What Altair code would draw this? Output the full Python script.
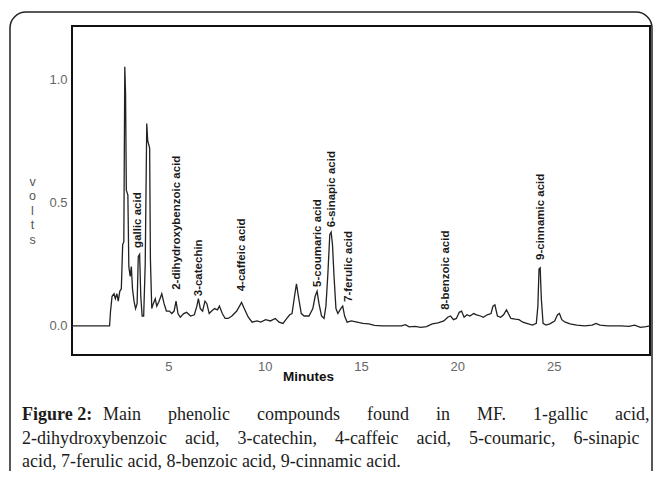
import altair as alt
import pandas as pd

# ---- chromatogram trace (minutes, volts) ----
minutes = [0.0, 1.95, 2.0, 2.08, 2.18, 2.25, 2.33, 2.40, 2.48, 2.56, 2.63, 2.69, 2.74, 2.78, 2.82,
           2.90, 2.95, 3.02, 3.08, 3.14, 3.22, 3.30, 3.38, 3.44, 3.51, 3.57, 3.64, 3.72, 3.80, 3.88,
           3.93, 4.03, 4.07, 4.14, 4.22, 4.32, 4.40, 4.52, 4.66, 4.78, 4.90, 5.05, 5.18, 5.30, 5.40,
           5.50, 5.62, 5.80, 5.95, 6.15, 6.35, 6.48, 6.56, 6.66, 6.78, 6.90, 7.00, 7.12, 7.25, 7.40,
           7.55, 7.65, 7.80, 7.95, 8.10, 8.30, 8.55, 8.80, 9.00, 9.15, 9.35, 9.60, 9.80, 10.05, 10.30,
           10.55, 10.75, 10.95, 11.15, 11.30, 11.42, 11.55, 11.65, 11.75, 11.90, 12.05, 12.30, 12.50,
           12.62, 12.72, 12.82, 12.95, 13.08, 13.18, 13.28, 13.38, 13.45, 13.52, 13.60, 13.70, 13.80,
           13.95, 14.05, 14.15, 14.28, 14.50, 14.80, 15.10, 15.40, 15.70, 16.10, 16.60, 17.10, 17.30,
           17.50, 17.80, 18.10, 18.40, 18.70, 19.00, 19.30, 19.50, 19.65, 19.80, 19.95, 20.10, 20.22,
           20.35, 20.50, 20.65, 20.85, 21.00, 21.20, 21.35, 21.55, 21.75, 21.85, 21.95, 22.08, 22.25,
           22.40, 22.55, 22.65, 22.78, 23.00, 23.20, 23.40, 23.60, 23.90, 24.10, 24.18, 24.24, 24.30,
           24.36, 24.45, 24.60, 24.80, 25.05, 25.20, 25.30, 25.42, 25.60, 25.85, 26.20, 26.60, 27.00,
           27.20, 27.40, 27.80, 28.50, 28.90, 29.20, 29.50, 29.80, 30.0]
volts = [0.0, 0.0, 0.06, 0.12, 0.13, 0.11, 0.13, 0.10, 0.14, 0.15, 0.33, 0.34, 1.05, 0.94, 0.55,
         0.53, 0.24, 0.20, 0.24, 0.15, 0.10, 0.07, 0.09, 0.28, 0.29, 0.12, 0.04, 0.04, 0.25, 0.82,
         0.75, 0.72, 0.27, 0.07, 0.09, 0.11, 0.08, 0.10, 0.13, 0.09, 0.06, 0.06, 0.05, 0.06, 0.10,
         0.05, 0.035, 0.05, 0.055, 0.04, 0.045, 0.08, 0.11, 0.07, 0.06, 0.10, 0.09, 0.05, 0.06, 0.07,
         0.065, 0.08, 0.05, 0.03, 0.03, 0.04, 0.06, 0.095, 0.06, 0.035, 0.015, 0.02, 0.015, 0.025, 0.02,
         0.03, 0.015, 0.01, 0.03, 0.045, 0.05, 0.12, 0.17, 0.12, 0.05, 0.04, 0.04, 0.07,
         0.12, 0.14, 0.09, 0.04, 0.03, 0.08, 0.21, 0.37, 0.38, 0.33, 0.20, 0.07, 0.05,
         0.07, 0.08, 0.04, 0.015, 0.02, 0.015, 0.01, 0.008, 0.002, 0.0, 0.0, 0.0, 0.005,
         -0.004, -0.002, -0.006, -0.003, 0.008, 0.012, 0.02, 0.035, 0.04, 0.025, 0.03, 0.055, 0.06,
         0.035, 0.045, 0.04, 0.05, 0.045, 0.04, 0.035, 0.045, 0.05, 0.08, 0.085, 0.04, 0.035,
         0.045, 0.065, 0.05, 0.03, 0.027, 0.025, 0.015, 0.01, 0.003, 0.01, 0.08, 0.23, 0.235,
         0.11, 0.01, 0.003, 0.008, 0.02, 0.045, 0.05, 0.025, 0.015, 0.008, 0.003, 0.0, 0.003,
         0.01, 0.003, 0.0, 0.0, -0.002, 0.003, -0.006, -0.003, 0.0]

# ---- peak labels ----
peak_names = ["gallic acid", "2-dihydroxybenzoic acid", "3-catechin", "4-caffeic acid",
              "5-coumaric acid", "6-sinapic acid", "7-ferulic acid", "8-benzoic acid",
              "9-cinnamic acid"]
peak_minutes = [3.43, 5.45, 6.59, 8.81, 12.77, 13.49, 14.38, 19.41, 24.34]
peak_label_base = [0.316, 0.146, 0.12, 0.14, 0.158, 0.40, 0.097, 0.065, 0.267]

x_ticks = [5, 10, 15, 20, 25]
y_ticks = [0.0, 0.5, 1.0]
y_title = ["v", "o", "l", "t", "s"]

NB = "\u00a0"
G1 = " " + NB * 5
G2 = " " + NB * 3
caption_bold = "Figure 2:"
caption_line1 = G1.join(["Main", "phenolic", "compounds", "found", "in", "MF.", "1-gallic", "acid,"])
caption_line2 = G2.join(["2-dihydroxybenzoic", "acid,", "3-catechin,", "4-caffeic", "acid,",
                         "5-coumaric,", "6-sinapic"])
caption_line3 = "acid, 7-ferulic acid, 8-benzoic acid, 9-cinnamic acid."

W, H = 578, 329
trace_df = pd.DataFrame({"t": minutes, "v": volts})
label_df = pd.DataFrame({"name": peak_names, "t": peak_minutes, "v": peak_label_base})

xscale = alt.Scale(domain=[0, 30], nice=False, zero=False)
yscale = alt.Scale(domain=[-0.118, 1.215], nice=False, zero=False)

trace = alt.Chart(trace_df).mark_line(color="#222222", strokeWidth=1.3).encode(
    x=alt.X("t:Q", scale=xscale,
            axis=alt.Axis(values=x_ticks, title="Minutes", titleFont="Liberation Sans",
                          titleFontWeight="bold", titleFontSize=13.5, titleColor="#111",
                          titleX=236, titleY=21, titleBaseline="middle", titleAnchor="start",
                          titleAlign="center",
                          labelPadding=11, labelBaseline="middle")),
    y=alt.Y("v:Q", scale=yscale,
            axis=alt.Axis(values=y_ticks, format=".1f", title=y_title, titleAngle=0,
                          titleX=-40, titleY=155, titleAlign="center", titleBaseline="middle",
                          titleLineHeight=14.5, titleFont="Liberation Sans", titleFontSize=12.5,
                          titleFontWeight="normal", titleColor="#555", labelPadding=5)),
)

labels = alt.Chart(label_df).mark_text(
    angle=270, align="left", baseline="middle", fontSize=11.5, fontWeight="bold",
    font="Liberation Sans", color="#1a1a1a"
).encode(x=alt.X("t:Q", scale=xscale), y=alt.Y("v:Q", scale=yscale), text="name:N")

one = pd.DataFrame({"k": [0]})

frame = alt.Chart(one).mark_rect(fill=None, stroke="#222", strokeWidth=1.5, cornerRadius=16,
                                 clip=False).encode(
    x=alt.value(-62), x2=alt.value(580), y=alt.value(-14), y2=alt.value(470))

def cap(text, x, y, bold=False):
    return alt.Chart(one).mark_text(
        text=text, align="left", baseline="alphabetic", font="Liberation Serif",
        fontSize=18, fontWeight="bold" if bold else "normal", color="#1c1c1c"
    ).encode(x=alt.value(x), y=alt.value(y))

chart = alt.layer(
    frame, trace, labels,
    cap(caption_bold, -50, 394, bold=True),
    cap(caption_line1, 31, 394),
    cap(caption_line2, -50, 418),
    cap(caption_line3, -50, 441),
).properties(
    width=W, height=H,
    autosize=alt.AutoSizeParams(type="none"),
    padding={"left": 64, "top": 18, "right": 4, "bottom": 116},
).configure_view(
    stroke="#111", strokeWidth=2
).configure_axis(
    domain=False, ticks=False, grid=False, labelFont="Liberation Sans", labelFontSize=13,
    labelColor="#666"
)

chart.save("out.html", embed_options={"renderer": "svg", "actions": False})
